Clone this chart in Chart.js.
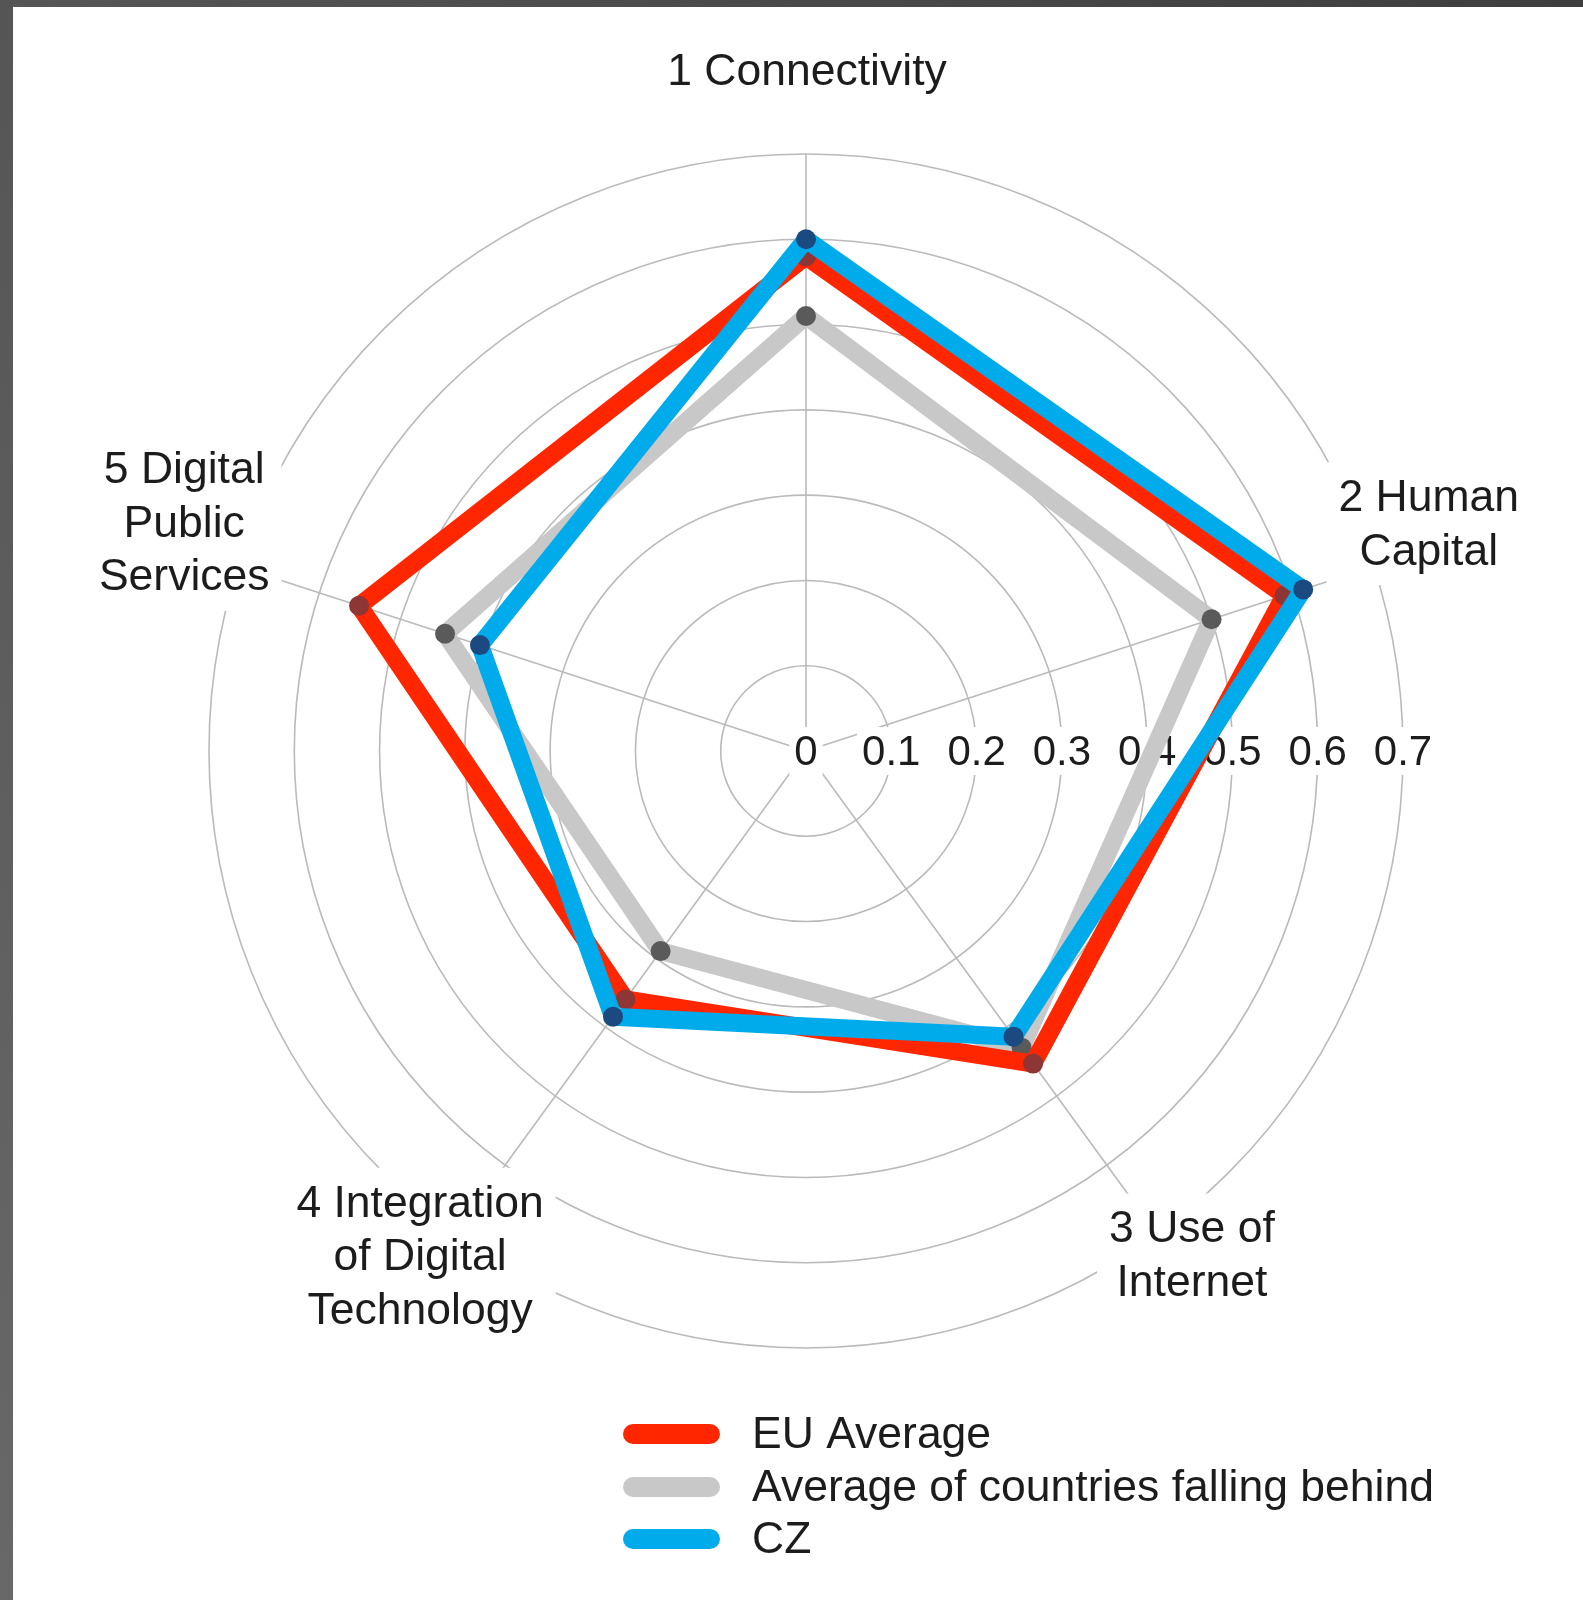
<!DOCTYPE html>
<html>
<head>
<meta charset="utf-8">
<script src="https://cdn.jsdelivr.net/npm/chart.js@4.4.1/dist/chart.umd.min.js"></script>
<style>
  html, body { margin: 0; padding: 0; background: #fff; }
  #wrap { position: relative; width: 1583px; height: 1600px; }
  #frameTop { position: absolute; left: 0; top: 0; width: 1583px; height: 7px; background: linear-gradient(to right, #565656, #3e3e3e); }
  #frameLeft { position: absolute; left: 0; top: 0; width: 13px; height: 1600px; background: linear-gradient(to bottom, #555555, #686868); }
</style>
</head>
<body>
<div id="wrap">
  <canvas id="c"></canvas>
  <div id="frameTop"></div>
  <div id="frameLeft"></div>
</div>
<script>
// ---- data ----
const categories = [
  ['1 Connectivity'],
  ['2 Human', 'Capital'],
  ['3 Use of', 'Internet'],
  ['4 Integration', 'of Digital', 'Technology'],
  ['5 Digital', 'Public', 'Services']
];
const seriesNames = ['EU Average', 'Average of countries falling behind', 'CZ'];
const euAverage = [0.58, 0.59, 0.453, 0.36, 0.551];
const fallingBehind = [0.51, 0.50, 0.43, 0.29, 0.445];
const czValues = [0.60, 0.613, 0.414, 0.385, 0.402];
const tickValues = [0, 0.1, 0.2, 0.3, 0.4, 0.5, 0.6, 0.7];
const tickLabels = ['0', '0.1', '0.2', '0.3', '0.4', '0.5', '0.6', '0.7'];

// ---- style / layout ----
const FONT = '"Liberation Sans", Arial, sans-serif';
const LABEL_SIZE = 44.5;
const LABEL_LINE = 53.5;
const TICK_SIZE = 42;
// label centre shift from the axis end point (outer ring)
const labelShift = [[1, -83], [55, -43], [35, 21], [-35, 22], [-54, -44]];

const extras = {
  id: 'extras',
  beforeDatasetsDraw(chart) {
    const s = chart.scales.r;
    const ctx = chart.ctx;
    ctx.save();
    // tick labels along horizontal axis
    ctx.font = TICK_SIZE + 'px ' + FONT;
    ctx.textAlign = 'center';
    ctx.textBaseline = 'middle';
    const pos = tickValues.map(v => s.xCenter + s.getDistanceFromCenterForValue(v));
    ctx.fillStyle = '#ffffff';
    tickLabels.forEach((t, i) => {
      const w = ctx.measureText(t).width;
      ctx.fillRect(pos[i] - w / 2 - 5, s.yCenter - 24, w + 10, 48);
    });
    ctx.fillStyle = '#1c1c1c';
    tickLabels.forEach((t, i) => ctx.fillText(t, pos[i], s.yCenter + 2));

    // point labels
    ctx.font = LABEL_SIZE + 'px ' + FONT;
    categories.forEach((lines, i) => {
      const a = s.getPointPosition(i, s.drawingArea);
      const p = { x: a.x + labelShift[i][0], y: a.y + labelShift[i][1] };
      const maxW = Math.max(...lines.map(l => ctx.measureText(l).width));
      const h = lines.length * LABEL_LINE;
      ctx.fillStyle = '#ffffff';
      ctx.fillRect(p.x - maxW / 2 - 12, p.y - h / 2 - 8, maxW + 24, h + 16);
      ctx.fillStyle = '#1c1c1c';
      lines.forEach((l, k) => {
        ctx.fillText(l, p.x, p.y - h / 2 + LABEL_LINE * (k + 0.5) + 2);
      });
    });
    ctx.restore();
  },
  afterDraw(chart) {
    const ctx = chart.ctx;
    ctx.save();
    const x0 = 623, x1 = 720, tx = 752;
    const rows = [1434, 1487, 1539];
    ctx.font = LABEL_SIZE + 'px ' + FONT;
    ctx.textAlign = 'left';
    ctx.textBaseline = 'middle';
    chart.data.datasets.forEach((ds, i) => {
      ctx.strokeStyle = ds.borderColor;
      ctx.lineWidth = 20;
      ctx.lineCap = 'round';
      ctx.beginPath();
      ctx.moveTo(x0 + 10, rows[i]);
      ctx.lineTo(x1 - 10, rows[i]);
      ctx.stroke();
      ctx.fillStyle = '#1c1c1c';
      ctx.fillText(ds.label, tx, rows[i] + 2);
    });
    ctx.restore();
  }
};

new Chart(document.getElementById('c'), {
  type: 'radar',
  data: {
    labels: categories,
    datasets: [
      { label: seriesNames[0], data: euAverage, borderColor: '#ff2600', backgroundColor: 'transparent',
        borderWidth: 18, pointBackgroundColor: '#8e3535', pointBorderWidth: 0, pointRadius: 10, order: 1,
        borderJoinStyle: 'round', fill: false },
      { label: seriesNames[1], data: fallingBehind, borderColor: '#c8c8c8', backgroundColor: 'transparent',
        borderWidth: 18, pointBackgroundColor: '#5a5a5a', pointBorderWidth: 0, pointRadius: 10, order: 2,
        borderJoinStyle: 'round', fill: false },
      { label: seriesNames[2], data: czValues, borderColor: '#00abeb', backgroundColor: 'transparent',
        borderWidth: 18, pointBackgroundColor: '#1b4a80', pointBorderWidth: 0, pointRadius: 10, order: 0,
        borderJoinStyle: 'round', fill: false }
    ]
  },
  options: {
    responsive: true,
    maintainAspectRatio: false,
    animation: false,
    layout: { padding: { left: 209, right: 180, top: 154, bottom: 252 } },
    plugins: { legend: { display: false }, tooltip: { enabled: false } },
    elements: { line: { tension: 0 } },
    scales: {
      r: {
        min: 0, max: 0.7,
        ticks: { display: false, stepSize: 0.1 },
        pointLabels: { display: false },
        grid: { circular: true, color: '#bababa', lineWidth: 1.6 },
        angleLines: { color: '#bababa', lineWidth: 1.6 }
      }
    }
  },
  plugins: [extras]
});
</script>
</body>
</html>
